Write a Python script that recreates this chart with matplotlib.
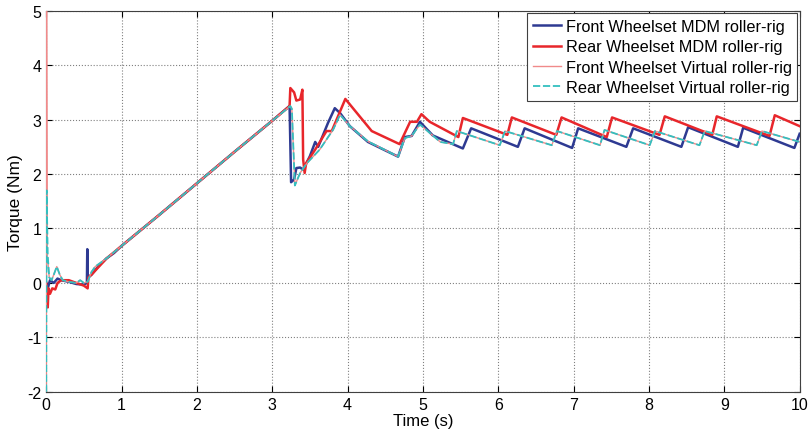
import matplotlib
matplotlib.use("Agg")
import matplotlib.pyplot as plt

plt.rcParams['font.family'] = ['Liberation Sans', 'DejaVu Sans']
plt.rcParams['axes.unicode_minus'] = False

# ---- data ----
front_mdm_t = [0, 0.02, 0.05, 0.1, 0.15, 0.2, 0.3, 0.4, 0.5, 0.54, 0.545, 0.55, 0.6, 0.7, 0.8, 0.9, 1.0,
               1.5, 2.0, 2.5, 3.0, 3.23, 3.25, 3.29, 3.32, 3.37, 3.41, 3.5, 3.57, 3.61, 3.74, 3.83, 3.9,
               4.03, 4.27, 4.67, 4.76, 4.85, 4.96, 5.13, 5.53, 5.64, 6.26, 6.35, 6.98, 7.06, 7.7, 7.79,
               8.43, 8.52, 9.18, 9.25, 9.93, 10.0]
front_mdm_y = [0.0, -0.1, 0.05, 0.0, 0.08, 0.05, 0.02, -0.02, -0.03, 0.0, 0.62, 0.1, 0.15, 0.32, 0.45, 0.55, 0.68,
               1.25, 1.83, 2.41, 2.98, 3.25, 1.85, 1.9, 2.11, 2.12, 2.08, 2.33, 2.59, 2.5, 2.94, 3.21, 3.12,
               2.88, 2.59, 2.32, 2.68, 2.7, 2.96, 2.71, 2.47, 2.84, 2.5, 2.84, 2.48, 2.84, 2.5, 2.84,
               2.5, 2.86, 2.5, 2.85, 2.48, 2.74]

rear_mdm_t = [0, 0.02, 0.03, 0.05, 0.08, 0.12, 0.15, 0.2, 0.3, 0.4, 0.5, 0.55, 0.56, 0.6, 0.7, 0.8, 1.0,
              1.5, 2.0, 2.5, 3.0, 3.23, 3.24, 3.29, 3.32, 3.37, 3.4, 3.41, 3.43, 3.45, 3.57, 3.72, 3.79,
              3.97, 4.32, 4.69, 4.83, 4.92, 4.98, 5.09, 5.47, 5.53, 6.12, 6.18, 6.77, 6.84, 7.44, 7.51,
              8.14, 8.21, 8.84, 8.9, 9.6, 9.67, 10.0]
rear_mdm_y = [0.0, -0.45, -0.1, -0.2, -0.1, -0.12, 0.0, 0.05, 0.05, 0.0, -0.05, -0.1, 0.1, 0.15, 0.3, 0.45, 0.68,
              1.25, 1.83, 2.41, 2.98, 3.25, 3.58, 3.5, 3.35, 3.37, 3.55, 2.27, 2.02, 2.2, 2.45, 2.79, 2.79,
              3.38, 2.79, 2.55, 2.96, 2.96, 3.1, 2.96, 2.68, 3.03, 2.72, 3.04, 2.72, 3.04, 2.68, 3.04,
              2.72, 3.06, 2.72, 3.06, 2.7, 3.08, 2.88]

front_virtual_t = [0, 0.004, 0.015, 0.04, 0.07, 0.1, 0.14, 0.18, 0.22, 0.3, 0.4, 0.45, 0.5, 0.55, 0.6, 0.65, 0.7,
                   0.8, 1.0, 1.5, 2.0, 2.5, 3.0, 3.24, 3.26, 3.3, 3.37, 3.46, 3.63, 3.81, 3.9, 4.03, 4.27,
                   4.67, 4.76, 4.85, 4.96, 5.23, 5.4, 5.45, 6.02, 6.09, 6.71, 6.78, 7.35, 7.41, 8.01, 8.08,
                   8.67, 8.74, 9.43, 9.5, 10.0]
front_virtual_y = [-2.0, 5.5, 0.5, 0.1, 0.05, 0.15, 0.3, 0.15, 0.05, 0.02, 0.0, 0.05, 0.0, 0.02, 0.2, 0.3, 0.35,
                   0.45, 0.68, 1.25, 1.83, 2.41, 2.98, 3.25, 3.2, 1.79, 2.02, 2.2, 2.45, 2.82, 3.09, 2.88, 2.6,
                   2.32, 2.66, 2.7, 2.91, 2.59, 2.55, 2.79, 2.53, 2.79, 2.53, 2.79, 2.53, 2.81, 2.53, 2.79,
                   2.53, 2.79, 2.53, 2.79, 2.59]

rear_virtual_t = [0, 0.005, 0.02, 0.04, 0.07, 0.1, 0.14, 0.18, 0.22, 0.3, 0.4, 0.45, 0.5, 0.55, 0.6, 0.65, 0.7,
                  0.8, 1.0, 1.5, 2.0, 2.5, 3.0, 3.24, 3.26, 3.3, 3.37, 3.46, 3.63, 3.81, 3.9, 4.03, 4.27,
                  4.67, 4.76, 4.85, 4.96, 5.23, 5.4, 5.45, 6.02, 6.09, 6.71, 6.78, 7.35, 7.41, 8.01, 8.08,
                  8.67, 8.74, 9.43, 9.5, 10.0]
rear_virtual_y = [-2.0, 1.7, 0.5, 0.1, 0.05, 0.15, 0.3, 0.15, 0.05, 0.02, 0.0, 0.05, 0.0, 0.02, 0.2, 0.3, 0.35,
                  0.45, 0.68, 1.25, 1.83, 2.41, 2.98, 3.25, 3.2, 1.79, 2.02, 2.2, 2.45, 2.82, 3.09, 2.88, 2.6,
                  2.32, 2.66, 2.7, 2.91, 2.59, 2.55, 2.79, 2.53, 2.79, 2.53, 2.79, 2.53, 2.81, 2.53, 2.79,
                  2.53, 2.79, 2.53, 2.79, 2.59]

labels = ["Front Wheelset MDM roller-rig", "Rear Wheelset MDM roller-rig",
          "Front Wheelset Virtual roller-rig", "Rear Wheelset Virtual roller-rig"]
x_ticks = list(range(0, 11))
y_ticks = list(range(-2, 6))

# ---- figure ----
fig = plt.figure(figsize=(8.11, 4.35), dpi=100)
ax = fig.add_axes([0.057, 0.097, 0.929, 0.876])

ax.plot(front_mdm_t, front_mdm_y, color='#2E3A92', lw=1.8, label=labels[0], zorder=3)
ax.plot(rear_mdm_t, rear_mdm_y, color='#E8262B', lw=1.8, label=labels[1], zorder=3)
ax.plot(front_virtual_t, front_virtual_y, color='#F08A8A', lw=1.0, label=labels[2], zorder=3)
ax.plot(rear_virtual_t, rear_virtual_y, color='#33BFBF', lw=1.3, ls=(0, (4, 1.5)), label=labels[3], zorder=3)

ax.set_xlim(0, 10)
ax.set_ylim(-2, 5)
ax.set_xticks(x_ticks)
ax.set_yticks(y_ticks)
ax.grid(True, color='#808080', ls=':', lw=0.8)
ax.tick_params(direction='in', top=True, right=True, labelsize=11.5, length=4)
for s in ax.spines.values():
    s.set_linewidth(0.8)
    s.set_color('#404040')

ax.set_xlabel("Time (s)", fontsize=12, labelpad=1)
ax.set_ylabel("Torque (Nm)", fontsize=12.5, labelpad=3)

leg = ax.legend(loc='upper right', fontsize=11.7, handlelength=1.7, handletextpad=0.3,
                borderpad=0.35, labelspacing=0.33, borderaxespad=0.15, fancybox=False,
                framealpha=1, edgecolor='#404040')
leg.get_frame().set_linewidth(0.8)
leg.set_zorder(5)

fig.savefig("out.png", dpi=100)
